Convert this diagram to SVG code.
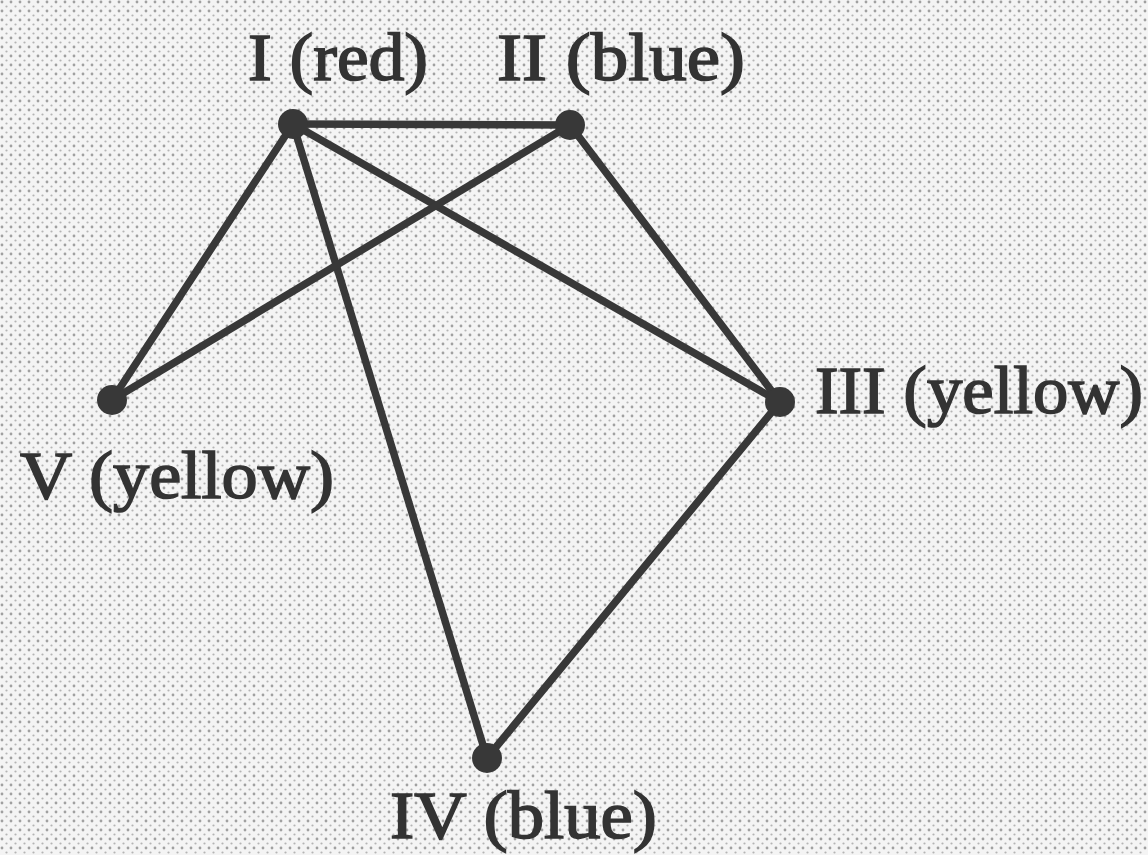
<svg xmlns="http://www.w3.org/2000/svg" width="1148" height="855" viewBox="0 0 1148 855">
<defs>
<pattern id="dots" x="0" y="0" width="9" height="9" patternUnits="userSpaceOnUse">
<rect width="9" height="9" fill="#f4f4f4"/>
<circle cx="2" cy="2" r="1.4" fill="#a0a0a0"/>
<circle cx="6.5" cy="6.5" r="1.1" fill="#b4b4b4"/>
</pattern>
<style>
.edge{stroke:#383838;stroke-width:7.5;stroke-linecap:round;fill:none}
.dot{fill:#383838}
.lbl{font-family:"Liberation Serif","Times New Roman",serif;font-size:68px;fill:#333;stroke:#333;stroke-width:1.6}
</style>
</defs>
<rect width="1148" height="855" fill="url(#dots)"/>
<g id="connectors">
<line class="edge" x1="293" y1="124" x2="570" y2="125"/>
<line class="edge" x1="293" y1="124" x2="112" y2="400"/>
<line class="edge" x1="293" y1="124" x2="780" y2="402"/>
<line class="edge" x1="293" y1="124" x2="487" y2="758"/>
<line class="edge" x1="570" y1="125" x2="112" y2="400"/>
<line class="edge" x1="570" y1="125" x2="780" y2="402"/>
<line class="edge" x1="780" y1="402" x2="487" y2="758"/>
</g>
<g id="node-I">
<circle class="dot" cx="293" cy="124" r="15"/>
<text class="lbl" x="248" y="80" textLength="180" lengthAdjust="spacingAndGlyphs">I (red)</text>
</g>
<g id="node-II">
<circle class="dot" cx="570" cy="125" r="15"/>
<text class="lbl" x="497" y="80" textLength="248" lengthAdjust="spacingAndGlyphs">II (blue)</text>
</g>
<g id="node-III">
<circle class="dot" cx="780" cy="402" r="15"/>
<text class="lbl" x="815" y="413" textLength="328" lengthAdjust="spacingAndGlyphs">III (yellow)</text>
</g>
<g id="node-IV">
<circle class="dot" cx="487" cy="758" r="15"/>
<text class="lbl" x="390" y="838" textLength="267" lengthAdjust="spacingAndGlyphs">IV (blue)</text>
</g>
<g id="node-V">
<circle class="dot" cx="112" cy="400" r="15"/>
<text class="lbl" x="20" y="498" textLength="314" lengthAdjust="spacingAndGlyphs">V (yellow)</text>
</g>
</svg>
